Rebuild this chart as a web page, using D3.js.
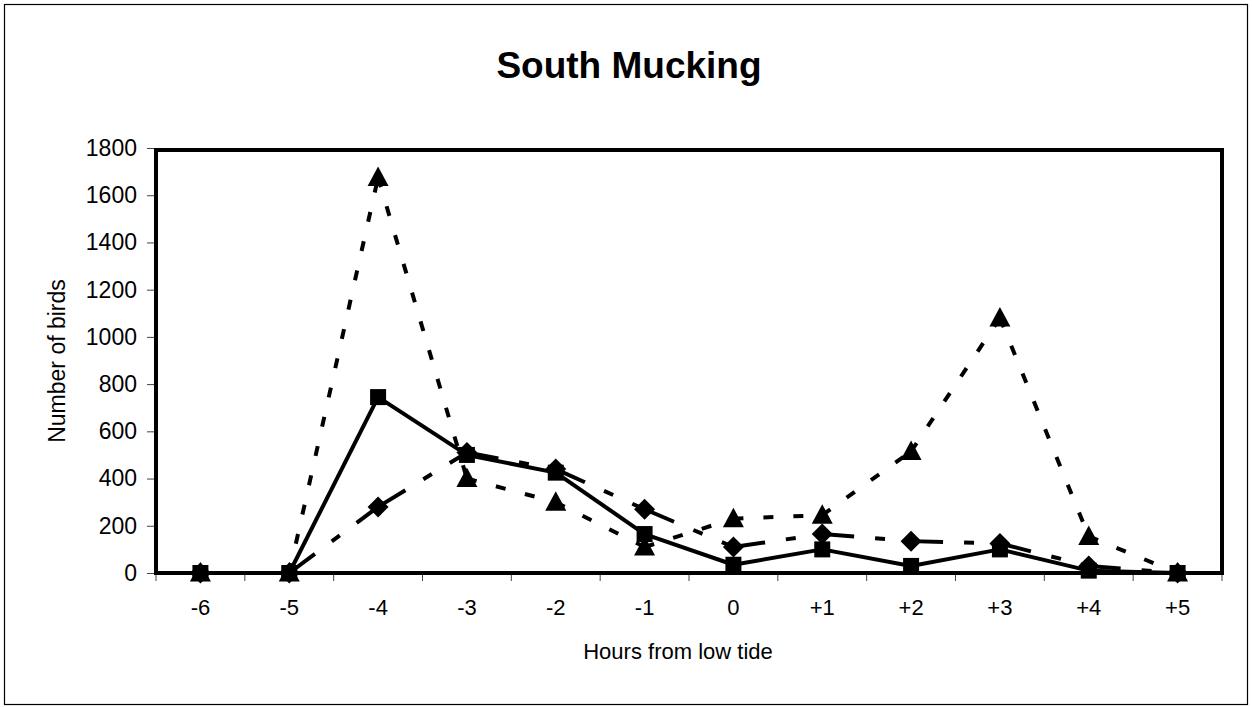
<!DOCTYPE html>
<html>
<head>
<meta charset="utf-8">
<script src="https://cdn.jsdelivr.net/npm/d3@7"></script>
<style>
  body { margin: 0; background: #fff; }
  text { font-family: Arial, "Liberation Sans", sans-serif; fill: #000; }
</style>
</head>
<body>
<svg id="chart" width="1252" height="707"></svg>
<script>
// chart data
var hours = ["-6", "-5", "-4", "-3", "-2", "-1", "0", "+1", "+2", "+3", "+4", "+5"];
var diamondCounts = [0, 0, 280, 510, 440, 270, 110, 165, 135, 125, 30, 0];
var squareCounts = [0, 0, 745, 500, 425, 165, 35, 100, 30, 100, 10, 0];
var triangleCounts = [0, 0, 1675, 400, 300, 110, 230, 245, 515, 1080, 155, 0];
var yTicks = [0, 200, 400, 600, 800, 1000, 1200, 1400, 1600, 1800];

var svg = d3.select("#chart"),
    plot = { left: 156, right: 1222, top: 148, bottom: 573 };

var x = d3.scaleBand().domain(hours).range([plot.left, plot.right]),
    y = d3.scaleLinear().domain([0, 1800]).range([plot.bottom, plot.top]);

var cx = function (h) { return x(h) + x.bandwidth() / 2; };

// outer chart border
svg.append("rect")
    .attr("x", 4.5).attr("y", 4.5)
    .attr("width", 1243).attr("height", 700)
    .attr("fill", "#fff")
    .attr("stroke", "#000")
    .attr("stroke-width", 1.2);

svg.append("text")
    .attr("x", 629).attr("y", 78)
    .attr("text-anchor", "middle")
    .attr("font-size", 37)
    .attr("font-weight", "bold")
    .text("South Mucking");

// axes (ticks only, the frame is drawn below)
var yAxis = d3.axisLeft(y).tickValues(yTicks).tickFormat(d3.format("d")).tickSize(9).tickPadding(10);
var gy = svg.append("g")
    .attr("transform", "translate(" + plot.left + ",0)")
    .call(yAxis);
gy.select(".domain").remove();
gy.selectAll("line").attr("stroke", "#444");
gy.selectAll("text").attr("font-size", 23).attr("font-family", "Arial, 'Liberation Sans', sans-serif");

var xAxis = d3.axisBottom(x).tickSize(0).tickPadding(26);
var gx = svg.append("g")
    .attr("transform", "translate(0," + plot.bottom + ")")
    .call(xAxis);
gx.select(".domain").remove();
gx.selectAll("text").attr("font-size", 22).attr("font-family", "Arial, 'Liberation Sans', sans-serif");

// category boundary ticks
var bounds = hours.map(function (h) { return x(h); }).concat([plot.right]);
svg.append("g").selectAll("line")
    .data(bounds)
    .join("line")
    .attr("x1", function (d) { return d; }).attr("x2", function (d) { return d; })
    .attr("y1", plot.bottom).attr("y2", plot.bottom + 8)
    .attr("stroke", "#444");

svg.append("text")
    .attr("x", 678).attr("y", 659)
    .attr("text-anchor", "middle")
    .attr("font-size", 22)
    .text("Hours from low tide");

svg.append("text")
    .attr("transform", "translate(65,361) rotate(-90)")
    .attr("text-anchor", "middle")
    .attr("font-size", 23)
    .text("Number of birds");

// plot frame
svg.append("rect")
    .attr("x", plot.left).attr("y", plot.top + 2)
    .attr("width", plot.right - plot.left)
    .attr("height", plot.bottom - plot.top - 2)
    .attr("fill", "none")
    .attr("stroke", "#000")
    .attr("stroke-width", 4);

var line = d3.line()
    .x(function (d) { return cx(d.h); })
    .y(function (d) { return y(d.v); });

// excel restarts the dash pattern on each segment, so draw segment by segment
function drawSeries(values, dash, marker) {
    var pts = hours.map(function (h, i) { return { h: h, v: values[i] }; });
    var segs = d3.pairs(pts);
    var g = svg.append("g");
    g.selectAll("path.seg")
        .data(segs)
        .join("path")
        .attr("class", "seg")
        .attr("d", line)
        .attr("fill", "none")
        .attr("stroke", "#000")
        .attr("stroke-width", 4)
        .attr("stroke-dasharray", dash);
    g.selectAll("path.mark")
        .data(pts)
        .join("path")
        .attr("class", "mark")
        .attr("transform", function (d) { return "translate(" + cx(d.h) + "," + y(d.v) + ")"; })
        .attr("d", marker)
        .attr("fill", "#000");
}

var squareMark = "M-8,-8H8V8H-8Z",
    diamondMark = "M0,-10.5L10.5,0L0,10.5L-10.5,0Z",
    triangleMark = "M0,-11L10.5,8.5H-10.5Z";

drawSeries(diamondCounts, "32,21,10,21", diamondMark);
drawSeries(squareCounts, null, squareMark);
drawSeries(triangleCounts, "10,20", triangleMark);
</script>
</body>
</html>
